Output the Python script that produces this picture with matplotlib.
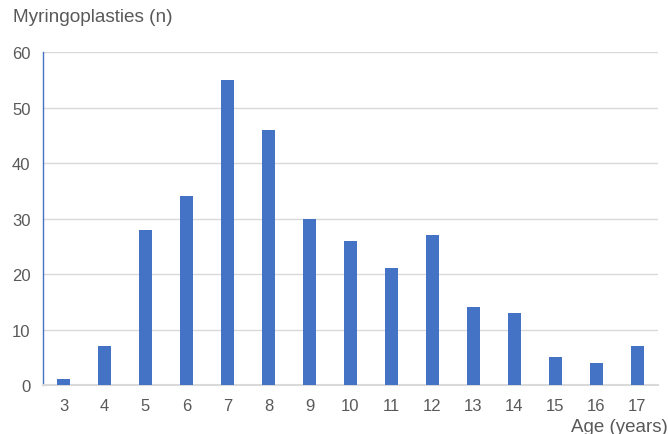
import matplotlib
matplotlib.use("Agg")
import matplotlib.pyplot as plt

ages = ["3", "4", "5", "6", "7", "8", "9", "10", "11", "12", "13", "14", "15", "16", "17"]
counts = [1, 7, 28, 34, 55, 46, 30, 26, 21, 27, 14, 13, 5, 4, 7]
y_ticks = [0, 10, 20, 30, 40, 50, 60]

bar_color = "#4472C4"
text_color = "#595959"
grid_color = "#D9D9D9"

plt.rcParams["font.family"] = ["Liberation Sans", "DejaVu Sans"]

fig = plt.figure(figsize=(6.68, 4.35), dpi=100)
ax = fig.add_axes([0.0644, 0.1126, 0.9206, 0.7654])

x = range(len(ages))
ax.bar(x, counts, width=0.32, color=bar_color, zorder=3)

ax.set_xlim(-0.5, len(ages) - 0.5)
ax.set_ylim(0, 60)
ax.set_yticks(y_ticks)
ax.set_xticks(list(x))
ax.set_xticklabels(ages)
ax.yaxis.grid(True, color=grid_color, linewidth=1.0, zorder=0)
ax.set_axisbelow(True)

for side in ["top", "right"]:
    ax.spines[side].set_visible(False)
ax.spines["left"].set_color(bar_color)
ax.spines["left"].set_linewidth(1.0)
ax.spines["bottom"].set_color(grid_color)
ax.spines["bottom"].set_linewidth(1.5)

ax.tick_params(axis="both", length=0, labelsize=12, colors=text_color)
ax.tick_params(axis="y", pad=9)
ax.tick_params(axis="x", pad=9)

fig.text(0.019, 0.959, "Myringoplasties (n)", fontsize=13.7, color=text_color,
         ha="left", va="center")
# the x-axis title sits in the bottom-right corner, slightly clipped by the edge
fig.text(0.999, 0.008, "Age (years)", fontsize=13.5, color=text_color,
         ha="right", va="baseline")

fig.savefig("out.png", dpi=100)
